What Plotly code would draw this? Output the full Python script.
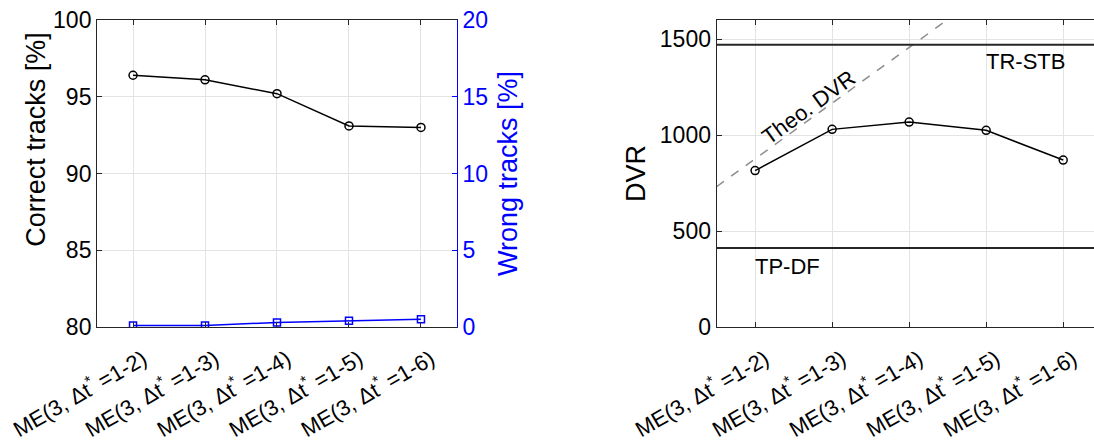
import plotly.graph_objects as go

categories = ["ME(3, Δt<sup>*</sup> =1-2)", "ME(3, Δt<sup>*</sup> =1-3)", "ME(3, Δt<sup>*</sup> =1-4)",
              "ME(3, Δt<sup>*</sup> =1-5)", "ME(3, Δt<sup>*</sup> =1-6)"]
positions = [1, 2, 3, 4, 5]
correct_tracks = [96.4, 96.1, 95.2, 93.1, 93.0]
wrong_tracks = [0.1, 0.1, 0.3, 0.4, 0.5]
dvr = [815, 1030, 1068, 1025, 870]
theo_x = [0.5, 1, 2, 3, 4, 5]
theo_dvr = [731, 876, 1167, 1457, 1748, 2038]
tr_stb = 1471
tp_df = 412

FONT = "Liberation Sans, Arial, Helvetica, sans-serif"
GRID = "#e3e3e3"
W, H = 1094, 446

fig = go.Figure()

fig.add_trace(go.Scatter(x=positions, y=correct_tracks, mode="lines+markers",
                         line=dict(color="black", width=1.5),
                         marker=dict(symbol="circle-open", size=8, color="black", line=dict(width=1.5)),
                         xaxis="x", yaxis="y", showlegend=False))
fig.add_trace(go.Scatter(x=positions, y=wrong_tracks, mode="lines+markers",
                         line=dict(color="#0000ff", width=1.5),
                         marker=dict(symbol="square-open", size=7, color="#0000ff", line=dict(width=1.5)),
                         xaxis="x", yaxis="y2", showlegend=False))

# right plot
fig.add_trace(go.Scatter(x=theo_x, y=theo_dvr, mode="lines",
                         line=dict(color="#8c8c8c", width=1.5, dash="dash"),
                         xaxis="x2", yaxis="y3", showlegend=False, cliponaxis=True))
fig.add_trace(go.Scatter(x=[0.5, 5.5], y=[tr_stb, tr_stb], mode="lines",
                         line=dict(color="#262626", width=2),
                         xaxis="x2", yaxis="y3", showlegend=False))
fig.add_trace(go.Scatter(x=[0.5, 5.5], y=[tp_df, tp_df], mode="lines",
                         line=dict(color="#262626", width=2),
                         xaxis="x2", yaxis="y3", showlegend=False))
fig.add_trace(go.Scatter(x=positions, y=dvr, mode="lines+markers",
                         line=dict(color="black", width=1.5),
                         marker=dict(symbol="circle-open", size=8, color="black", line=dict(width=1.5)),
                         xaxis="x2", yaxis="y3", showlegend=False))

xcommon = dict(tickmode="array", tickvals=positions, ticktext=categories, tickangle=-30,
               showgrid=True, gridcolor=GRID, gridwidth=1, ticks="inside", ticklen=5,
               tickcolor="#262626", showline=True, linecolor="#262626", linewidth=1,
               mirror="ticks", zeroline=False, automargin=False,
               ticklabeloverflow="allow", ticklabelshift=10, ticklabelstandoff=10,
               tickfont=dict(family=FONT, size=22, color="black"))

fig.update_layout(
    width=W, height=H,
    margin=dict(l=0, r=0, t=20, b=119),
    paper_bgcolor="white", plot_bgcolor="white",
    font=dict(family=FONT, size=22, color="black"),
    xaxis=dict(domain=[0.0887, 0.4177], range=[0.5, 5.5], anchor="y", **xcommon),
    yaxis=dict(range=[80, 100], tickvals=[80, 85, 90, 95, 100], showgrid=True, gridcolor=GRID,
               ticks="inside", ticklen=5, tickcolor="#262626", showline=True, linecolor="#262626",
               linewidth=1, zeroline=False, anchor="x", automargin=False,
               tickfont=dict(family=FONT, size=23, color="black")),
    yaxis2=dict(range=[0, 20], tickvals=[0, 5, 10, 15, 20], overlaying="y", side="right",
                anchor="x", showgrid=False, ticks="inside", ticklen=5, tickcolor="#0000ff",
                showline=True, linecolor="#0000ff", linewidth=1, zeroline=False, automargin=False,
                tickfont=dict(family=FONT, size=23, color="#0000ff"),
                title=dict(text="Wrong tracks [%]", font=dict(family=FONT, size=27, color="#0000ff"),
                           standoff=10)),
    xaxis2=dict(domain=[0.655, 1.0], range=[0.5, 5.4], anchor="y3", **xcommon),
    yaxis3=dict(range=[0, 1600], tickvals=[0, 500, 1000, 1500], showgrid=True, gridcolor=GRID,
                ticks="inside", ticklen=5, tickcolor="#262626", showline=True, linecolor="#262626",
                linewidth=1, zeroline=False, anchor="x2", automargin=False,
                tickfont=dict(family=FONT, size=23, color="black"),
                title=dict(text="DVR", font=dict(family=FONT, size=27), standoff=6)),
)

fig.add_annotation(x=36 / W, y=(H - 174) / H, xref="paper", yref="paper", text="Correct tracks [%]",
                   showarrow=False, textangle=-90, xanchor="center", yanchor="middle",
                   font=dict(family=FONT, size=27, color="black"))
fig.add_annotation(x=4.51, y=1383, xref="x2", yref="y3", text="TR-STB", showarrow=False,
                   font=dict(family=FONT, size=22, color="black"))
fig.add_annotation(x=1.42, y=313, xref="x2", yref="y3", text="TP-DF", showarrow=False,
                   font=dict(family=FONT, size=22, color="black"))
fig.add_annotation(x=1.69, y=1146, xref="x2", yref="y3", text="Theo. DVR", showarrow=False,
                   textangle=-36, font=dict(family=FONT, size=22, color="black"))

fig.write_html("out.html")
